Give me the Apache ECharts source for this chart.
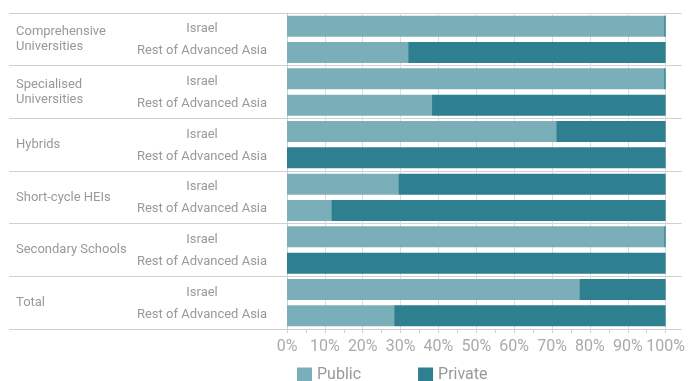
<!DOCTYPE html>
<html>
<head>
<meta charset="utf-8">
<script src="https://cdn.jsdelivr.net/npm/echarts@6/dist/echarts.min.js"></script>
<style>html,body{margin:0;padding:0;background:#fff}#c{width:688px;height:381px}</style>
</head>
<body>
<div id="c"></div>
<script>
const groups = ['Comprehensive\nUniversities', 'Specialised\nUniversities', 'Hybrids', 'Short-cycle HEIs', 'Secondary Schools', 'Total'];
const subs = ['Israel', 'Rest of Advanced Asia'];
const rows = ['CU-IL', 'CU-RA', 'SU-IL', 'SU-RA', 'HY-IL', 'HY-RA', 'SC-IL', 'SC-RA', 'SS-IL', 'SS-RA', 'TO-IL', 'TO-RA'];
const publicVals  = [99.6, 32.0, 99.6, 38.3, 71.1, 0, 29.4, 11.7, 99.6, 0, 77.2, 28.3];
const privateVals = [0.4, 68.0, 0.4, 61.7, 28.9, 100, 70.6, 88.3, 0.4, 100, 22.8, 71.7];
const xTicks = [0, 10, 20, 30, 40, 50, 60, 70, 80, 90, 100];

const gray = '#cfcfcf';
const chart = echarts.init(document.getElementById('c'));
chart.setOption({
  animation: false,
  textStyle: { fontFamily: 'Roboto' },
  grid: { left: 287, right: 20, top: 13, bottom: 52 },
  legend: {
    left: 297, top: 367, padding: 0, itemWidth: 15, itemHeight: 15, itemGap: 57,
    icon: 'rect',
    textStyle: { color: '#999', fontSize: 16, fontFamily: 'Roboto' },
    data: ['Public', 'Private']
  },
  xAxis: {
    type: 'value', min: xTicks[0], max: xTicks[xTicks.length - 1], interval: 10,
    axisLine: { show: true, lineStyle: { color: gray } },
    axisTick: { show: true, length: 4, lineStyle: { color: gray } },
    minorTick: { show: true, splitNumber: 2, length: 4, lineStyle: { color: gray } },
    splitLine: { show: true, lineStyle: { color: '#dcdcdc', width: 1 } },
    axisLabel: { formatter: '{value}%', color: '#aaa', fontSize: 16, margin: 10, fontFamily: 'Roboto' }
  },
  yAxis: [
    {
      type: 'category', inverse: true, data: rows,
      axisLine: { show: true, lineStyle: { color: gray } },
      axisTick: { show: false },
      axisLabel: {
        align: 'center', margin: 85,
        formatter: (v, i) => i % 2 === 0 ? '{a|' + subs[0] + '}' : '{b|' + subs[1] + '}',
        rich: {
          a: { color: '#999', fontSize: 13, fontFamily: 'Roboto', padding: [6, 0, 0, 0] },
          b: { color: '#999', fontSize: 13, fontFamily: 'Roboto', padding: [0, 0, 3, 0] }
        }
      }
    },
    {
      type: 'category', inverse: true, data: groups, position: 'left',
      axisLine: { show: false },
      axisTick: { show: true, length: 278, lineStyle: { color: gray } },
      splitLine: { show: true, lineStyle: { color: gray } },
      axisLabel: { align: 'left', margin: 271, color: '#999', fontSize: 13, lineHeight: 15, fontFamily: 'Roboto', padding: [7, 0, 0, 0] }
    },
    {
      type: 'category', inverse: true, data: groups, position: 'right',
      axisLine: { show: false },
      axisTick: { show: true, length: 16, lineStyle: { color: gray } },
      axisLabel: { show: false }
    }
  ],
  series: [
    { name: 'Public', type: 'bar', stack: 's', data: publicVals, barWidth: 21, itemStyle: { color: '#7aafb9' } },
    { name: 'Private', type: 'bar', stack: 's', data: privateVals, barWidth: 21, itemStyle: { color: '#2e7f8f' } }
  ]
});
</script>
</body>
</html>
